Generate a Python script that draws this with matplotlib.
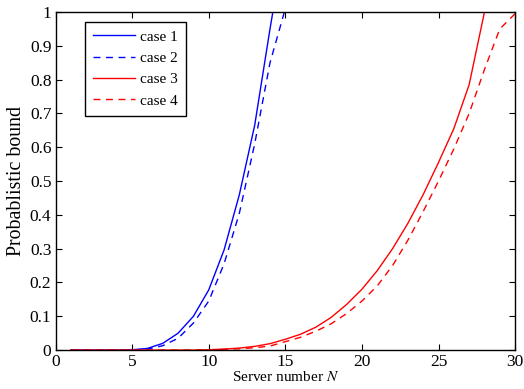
import numpy as np
import matplotlib.pyplot as plt

# server numbers and bound values
n_case1 = list(range(1, 16))
case1 = [0, 0, 0, 0, 0.001, 0.005, 0.02, 0.05, 0.1, 0.178, 0.296, 0.46, 0.665, 0.95, 1.22]

n_case2 = list(range(1, 16))
case2 = [0, 0, 0, 0, 0, 0.003, 0.013, 0.035, 0.08, 0.145, 0.255, 0.405, 0.61, 0.85, 1.01]

n_case3 = list(range(1, 29))
case3 = [0, 0, 0, 0, 0, 0, 0, 0, 0, 0.001, 0.003, 0.006, 0.011, 0.019, 0.032,
         0.047, 0.068, 0.097, 0.135, 0.18, 0.235, 0.3, 0.375, 0.46, 0.555,
         0.655, 0.785, 1.0]

n_case4 = list(range(1, 31))
case4 = [0, 0, 0, 0, 0, 0, 0, 0, 0, 0.001, 0.002, 0.004, 0.007, 0.012, 0.025,
         0.038, 0.056, 0.078, 0.108, 0.145, 0.19, 0.25, 0.325, 0.41, 0.5,
         0.595, 0.7, 0.83, 0.95, 0.995]

plt.rcParams['font.family'] = ['Liberation Serif', 'DejaVu Serif']
plt.rcParams['mathtext.fontset'] = 'stix'
plt.rcParams['font.size'] = 12.5

fig = plt.figure(figsize=(5.24, 3.89), dpi=100)
ax = fig.add_axes([0.106, 0.1, 0.877, 0.869])

lw = 1.0
ax.plot(n_case1, case1, color='blue', ls='-', lw=lw, label='case 1')
ax.plot(n_case2, case2, color='blue', ls=(0, (5, 4)), lw=lw, label='case 2')
ax.plot(n_case3, case3, color='red', ls='-', lw=lw, label='case 3')
ax.plot(n_case4, case4, color='red', ls=(0, (5, 4)), lw=lw, label='case 4')

ax.set_xlim(0, 30)
ax.set_ylim(0, 1)
ax.set_xticks(np.arange(0, 31, 5))
ax.set_yticks(np.arange(0, 1.01, 0.1))
ax.set_yticklabels(['0', '0.1', '0.2', '0.3', '0.4', '0.5', '0.6', '0.7', '0.8', '0.9', '1'])
ax.tick_params(direction='in', top=True, right=True, length=4, width=0.8, pad=3)
for sp in ax.spines.values():
    sp.set_linewidth(1.0)

ax.set_xlabel('Server number $N$', fontsize=11, labelpad=0)
ax.set_ylabel('Probablistic bound', fontsize=14.3, labelpad=3)

leg = ax.legend(loc='upper left', bbox_to_anchor=(0.064, 0.972), borderaxespad=0,
                fancybox=False, edgecolor='black', framealpha=1, handlelength=2.75,
                handletextpad=0.3, borderpad=0.55, labelspacing=0.5, fontsize=11)
leg.get_frame().set_linewidth(1.0)

fig.savefig('out.png', dpi=100)
